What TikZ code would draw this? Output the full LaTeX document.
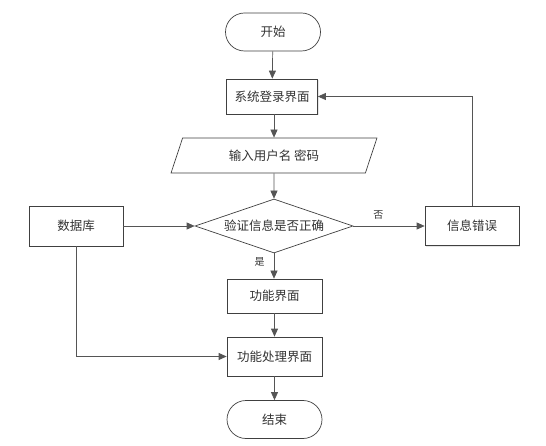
\documentclass[tikz,border=0pt]{standalone}
\usepackage{fontspec}
\newfontfamily\cjk{Noto Sans CJK SC}
\usetikzlibrary{shapes.geometric,shapes.misc,arrows.meta,shadows}
\definecolor{ln}{HTML}{555555}
\definecolor{bd}{HTML}{404040}
\tikzset{
  base/.style={draw=bd, line width=0.7pt, font=\cjk\fontsize{12.5}{14}\selectfont, text=black!80, inner sep=0pt, fill=white},
  proc/.style={base, rectangle, minimum width=94pt, minimum height=36pt, drop shadow={shadow xshift=1.2pt, shadow yshift=-1.2pt, opacity=0.2}},
  term/.style={base, rounded rectangle, minimum width=95pt, minimum height=38pt},
  io/.style={base, trapezium, trapezium left angle=64, trapezium right angle=116, minimum width=206pt, minimum height=35pt, trapezium stretches=true},
  dec/.style={base, diamond, aspect=2.93, minimum width=158pt, minimum height=54pt},
  arr/.style={draw=ln, line width=0.7pt, -{Triangle[length=8pt,width=7pt]}},
  lbl/.style={font=\cjk\fontsize{10}{11}\selectfont, text=black!80, inner sep=0pt}
}
\begin{document}
\begin{tikzpicture}[x=1pt,y=-1pt]
\useasboundingbox (0,0) rectangle (546,446);
\node[term] (start) at (273,32) {开始};
\node[proc, minimum width=91pt, minimum height=35pt] (login) at (272,96.5) {系统登录界面};
\node[io] (input) at (274,155.5) {输入用户名 密码};
\node[dec] (check) at (274,226) {验证信息是否正确};
\node[proc, minimum height=40pt] (db) at (76,226) {数据库};
\node[proc, minimum height=39pt] (err) at (472,226) {信息错误};
\node[proc, minimum width=95pt, minimum height=34pt] (func) at (274.5,296) {功能界面};
\node[proc, minimum width=95pt, minimum height=39pt] (proc2) at (274.5,356.5) {功能处理界面};
\node[term] (end) at (274.5,419.5) {结束};
\coordinate (dbc) at (76,356.5);
\coordinate (errc) at (472,96.5);
\draw[arr] (start) -- (login);
\draw[arr] (login.south -| input.north) -- (input.north);
\draw[arr] (input) -- (check);
\draw[arr] (db.east) -- (check.west);
\draw[arr] (check.east) -- node[lbl, above=6pt, pos=0.35] {否} (err.west);
\draw[arr] (check.south) -- node[lbl, pos=0.35, left=9pt] {是} (func.north -| check.south);
\draw[arr] (func) -- (proc2);
\draw[arr] (proc2) -- (end);
\draw[arr] (db.south) -- (dbc) -- (proc2.west);
\draw[arr] (err.north) -- (errc) -- (login.east);
\end{tikzpicture}
\end{document}
